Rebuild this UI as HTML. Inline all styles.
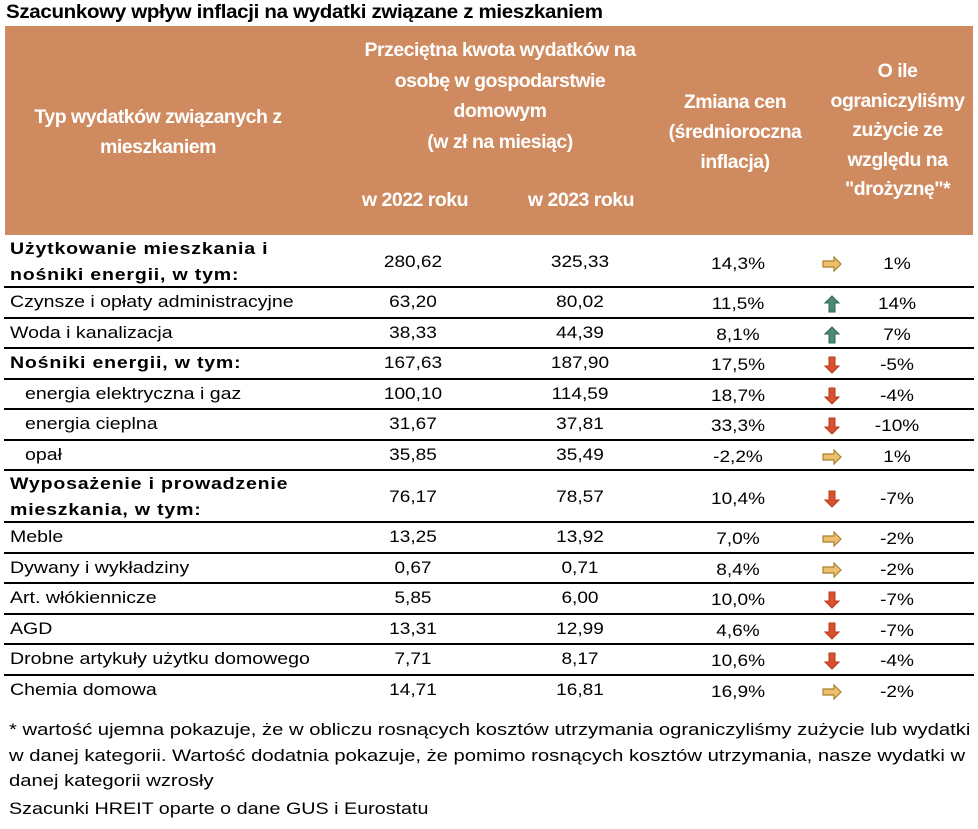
<!DOCTYPE html>
<html><head><meta charset="utf-8">
<style>
body{margin:0;background:#fff;width:978px;height:829px;position:relative;overflow:hidden;font-family:"Liberation Sans",sans-serif;color:#000}
.a{position:absolute;white-space:nowrap}
.h{position:absolute;color:#fff;font-weight:bold;font-size:19.5px;text-align:center;line-height:29.5px;letter-spacing:-0.5px}
.c{position:absolute;font-size:17px;white-space:nowrap;transform:translate(-50%,-50%) scaleX(1.12)}
.line{position:absolute;left:4px;width:970px;height:2px;background:#000}
.lab{position:absolute;font-size:17px;line-height:26px;white-space:nowrap;transform-origin:0 50%;transform:translateY(-50%) scaleX(1.15)}
</style></head><body>
<div class="a" style="left:6px;top:2px;font-size:19px;font-weight:bold;letter-spacing:-0.3px;transform-origin:0 0;transform:scaleX(1.08)">Szacunkowy wpływ inflacji na wydatki związane z mieszkaniem</div>
<div style="position:absolute;left:5px;top:26px;width:968px;height:209px;background:#CF8A5F"></div>
<div class="h" style="left:18px;top:103px;width:280px">Typ wydatków związanych z<br>mieszkaniem</div>
<div class="h" style="left:320px;top:35px;width:360px;line-height:30.5px">Przeciętna kwota wydatków na<br>osobę w gospodarstwie<br>domowym<br>(w zł na miesiąc)</div>
<div class="h" style="left:340px;top:186px;width:150px">w 2022 roku</div>
<div class="h" style="left:506px;top:186px;width:150px">w 2023 roku</div>
<div class="h" style="left:650px;top:87px;width:170px;line-height:30px">Zmiana cen<br>(średnioroczna<br>inflacja)</div>
<div class="h" style="left:815px;top:57px;width:165px;line-height:29.5px">O ile<br>ograniczyliśmy<br>zużycie ze<br>względu na<br>"drożyznę"*</div>
<div id="rows"></div>
<div class="a" style="left:9px;top:717px;font-size:17px;line-height:25.5px;transform-origin:0 0;transform:scaleX(1.19)">* wartość ujemna pokazuje, że w obliczu rosnących kosztów utrzymania ograniczyliśmy zużycie lub wydatki<br>w danej kategorii. Wartość dodatnia pokazuje, że pomimo rosnących kosztów utrzymania, nasze wydatki w<br>danej kategorii wzrosły</div>
<div class="a" style="left:9px;top:799px;font-size:17px;transform-origin:0 0;transform:scaleX(1.16)">Szacunki HREIT oparte o dane GUS i Eurostatu</div>
<script>
const labels=["Użytkowanie mieszkania i<br>nośniki energii, w tym:","Czynsze i opłaty administracyjne","Woda i kanalizacja","Nośniki energii, w tym:","energia elektryczna i gaz","energia cieplna","opał","Wyposażenie i prowadzenie<br>mieszkania, w tym:","Meble","Dywany i wykładziny","Art. włókiennicze","AGD","Drobne artykuły użytku domowego","Chemia domowa"];
const v2022=["280,62","63,20","38,33","167,63","100,10","31,67","35,85","76,17","13,25","0,67","5,85","13,31","7,71","14,71"];
const v2023=["325,33","80,02","44,39","187,90","114,59","37,81","35,49","78,57","13,92","0,71","6,00","12,99","8,17","16,81"];
const inflation=["14,3%","11,5%","8,1%","17,5%","18,7%","33,3%","-2,2%","10,4%","7,0%","8,4%","10,0%","4,6%","10,6%","16,9%"];
const usage=["1%","14%","7%","-5%","-4%","-10%","1%","-7%","-2%","-2%","-7%","-7%","-4%","-2%"];
const bold=[1,0,0,1,0,0,0,1,0,0,0,0,0,0];
const indent=[0,0,0,0,1,1,1,0,0,0,0,0,0,0];
const R=document.getElementById('rows');
function arrow(u){const n=parseInt(u);
 if(n>=5) return '<svg width="16" height="18" viewBox="0 0 16 18"><path d="M8 1L15 8H11V17H5V8H1Z" fill="#4E8A73" stroke="#2F6A55" stroke-width="1"/></svg>';
 if(n<=-3) return '<svg width="16" height="18" viewBox="0 0 16 18"><path d="M8 17L15 10H11V1H5V10H1Z" fill="#D9502C" stroke="#B83A1E" stroke-width="1"/></svg>';
 return '<svg width="20" height="16" viewBox="0 0 20 16"><path d="M19 8L12 1V5H1V11H12V15Z" fill="#EDBF6E" stroke="#A8812F" stroke-width="1.2"/></svg>';}
let y=235;
for(let i=0;i<labels.length;i++){
 const h=labels[i].includes('<br>')?52:30.5;
 const cy=y+h/2+(h>40?1:0);
 const row=document.createElement('div');
 
 
 row.innerHTML=
 `<div class="lab" style="left:${indent[i]?25:10}px;top:${cy}px;font-weight:${bold[i]?'bold':'normal'};letter-spacing:${bold[i]?'0.7px':'0'}">${labels[i]}</div>`+
 `<div class="c" style="left:413px;top:${cy}px">${v2022[i]}</div>`+
 `<div class="c" style="left:580px;top:${cy}px">${v2023[i]}</div>`+
 `<div class="c" style="left:738px;top:${cy+2}px">${inflation[i]}</div>`+
 `<div class="c" style="left:832px;top:${cy+2}px;line-height:0;transform:translate(-50%,-50%)">${arrow(usage[i])}</div>`+
 `<div class="c" style="left:897px;top:${cy+2}px">${usage[i]}</div>`;
 R.appendChild(row);
 y+=h;
 if(i<labels.length-1){const l=document.createElement('div');
  
  
  l.className='line';l.style.top=(y-1)+'px';R.appendChild(l);}
}
</script>
</body></html>
